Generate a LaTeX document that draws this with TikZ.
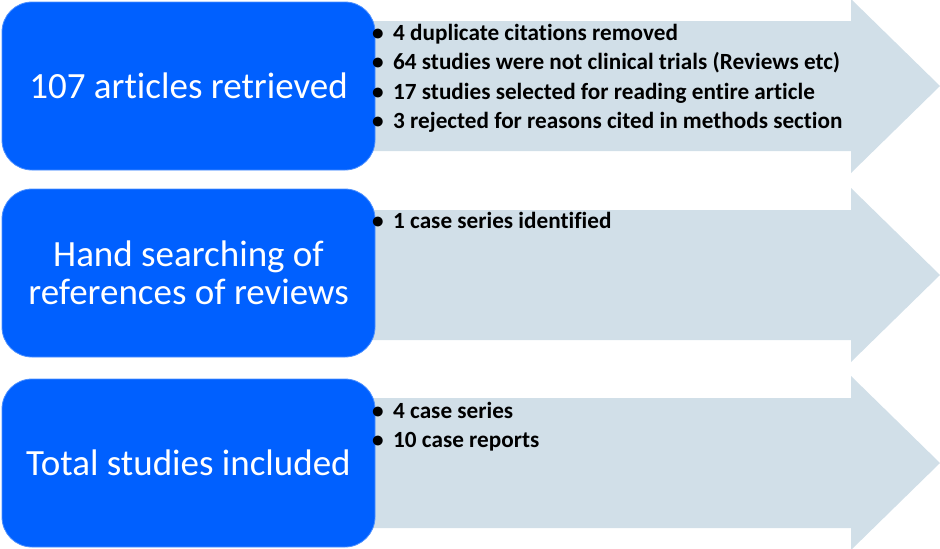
\documentclass[tikz,border=0pt]{standalone}
\usepackage{fontspec}
\setmainfont{Carlito}[Ligatures={NoCommon}]
\definecolor{boxblue}{RGB}{0,96,255}
\definecolor{arrowfill}{RGB}{209,223,232}
\tikzset{
  stagebox/.style={fill=boxblue, draw=boxblue!70!white, line width=0.8pt, rounded corners=30pt,
    minimum width=373pt, minimum height=168pt, text=white, align=center,
    font=\fontsize{37}{37.5}\selectfont, inner sep=0pt},
  bulletline/.style={anchor=base west, inner sep=0pt, font=\fontsize{23.2}{26}\selectfont\bfseries, text=black},
}
\newcommand{\bul}{\makebox[21pt][l]{\textbullet}}
\begin{document}
\begin{tikzpicture}[x=1pt,y=-1pt]
\useasboundingbox (0,0) rectangle (940,549);
\foreach \cy in {86,275,463}{
  \fill[arrowfill] (190,{\cy-65}) -- (851,{\cy-65}) -- (851,{\cy-87}) -- (940,\cy)
     -- (851,{\cy+87}) -- (851,{\cy+65}) -- (190,{\cy+65}) -- cycle;
}
\node[stagebox] (a) at (188.5,86) {107 articles retrieved};
\node[stagebox] (b) at (188.5,273) {Hand searching of\\references of reviews};
\node[stagebox] (c) at (188.5,463) {Total studies included};

\node[bulletline] (a1) at (372,40) {\bul 4 duplicate citations removed};
\node[bulletline] (a2) at (372,69.5) {\bul 64 studies were not clinical trials (Reviews etc)};
\node[bulletline] (a3) at (372,99) {\bul 17 studies selected for reading entire article};
\node[bulletline] (a4) at (372,128.5) {\bul 3 rejected for reasons cited in methods section};

\node[bulletline] (b1) at (372,228) {\bul 1 case series identified};

\node[bulletline] (c1) at (372,418) {\bul 4 case series};
\node[bulletline] (c2) at (372,447.5) {\bul 10 case reports};
\end{tikzpicture}
\end{document}
